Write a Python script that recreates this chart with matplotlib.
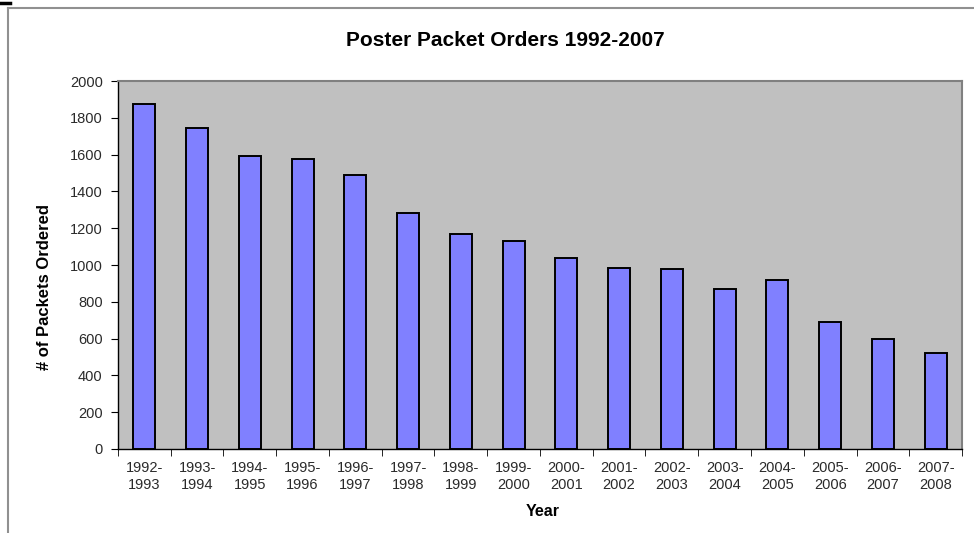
import numpy as np
import matplotlib.pyplot as plt
from matplotlib.lines import Line2D

plt.rcParams['font.family'] = ['Liberation Sans', 'DejaVu Sans']

seasons = ['1992-\n1993', '1993-\n1994', '1994-\n1995', '1995-\n1996', '1996-\n1997',
           '1997-\n1998', '1998-\n1999', '1999-\n2000', '2000-\n2001', '2001-\n2002',
           '2002-\n2003', '2003-\n2004', '2004-\n2005', '2005-\n2006', '2006-\n2007',
           '2007-\n2008']
orders = [1875, 1745, 1592, 1576, 1489, 1283, 1168, 1130, 1038, 984, 978, 870, 918,
          690, 598, 522]
y_ticks = [0, 200, 400, 600, 800, 1000, 1200, 1400, 1600, 1800, 2000]

fig = plt.figure(figsize=(9.74, 5.33), dpi=100)
ax = fig.add_axes([0.1211, 0.1576, 0.8666, 0.6904])

x = np.arange(len(orders))
ax.bar(x, orders, width=0.42, color='#8080FF', edgecolor='black', linewidth=1.4, zorder=3)

ax.set_facecolor('#C0C0C0')
ax.set_xlim(-0.5, len(orders) - 0.5)
ax.set_ylim(0, 2000)
ax.set_yticks(y_ticks)
ax.set_xticks(x)
ax.set_xticklabels(seasons, linespacing=1.2)
ax.set_xticks(np.arange(len(orders) + 1) - 0.5, minor=True)
ax.tick_params(axis='x', which='major', length=0, pad=9, labelsize=10.5)
ax.tick_params(axis='x', which='minor', length=5, direction='out', color='black')
ax.tick_params(axis='y', length=5, direction='out', labelsize=10.5, pad=6)
ax.tick_params(axis='both', which='both', labelcolor='#2a2a2a')

for side in ['top', 'right']:
    ax.spines[side].set_color('#808080')
    ax.spines[side].set_linewidth(1.5)
for side in ['left', 'bottom']:
    ax.spines[side].set_color('black')
    ax.spines[side].set_linewidth(1.0)

fig.text(505 / 974, 1 - 40 / 533, 'Poster Packet Orders 1992-2007', fontsize=15,
         fontweight='bold', ha='center', va='center')
fig.text(45 / 974, 1 - 287 / 533, '# of Packets Ordered', fontsize=12, fontweight='bold',
         rotation=90, ha='center', va='center')
fig.text(543 / 974, 1 - 511 / 533, 'Year', fontsize=11.5, fontweight='bold',
         ha='center', va='center')

# outer chart border (top and left) and the small black mark in the corner
fig.add_artist(Line2D([8 / 974, 1.0], [1 - 7.5 / 533, 1 - 7.5 / 533], color='#909090', linewidth=1.5))
fig.add_artist(Line2D([8 / 974, 8 / 974], [0.0, 1 - 7.5 / 533], color='#909090', linewidth=1.5))
fig.add_artist(Line2D([0.0, 10 / 974], [1 - 2.5 / 533, 1 - 2.5 / 533], color='black', linewidth=2.5))

fig.savefig('out.png', dpi=100)
